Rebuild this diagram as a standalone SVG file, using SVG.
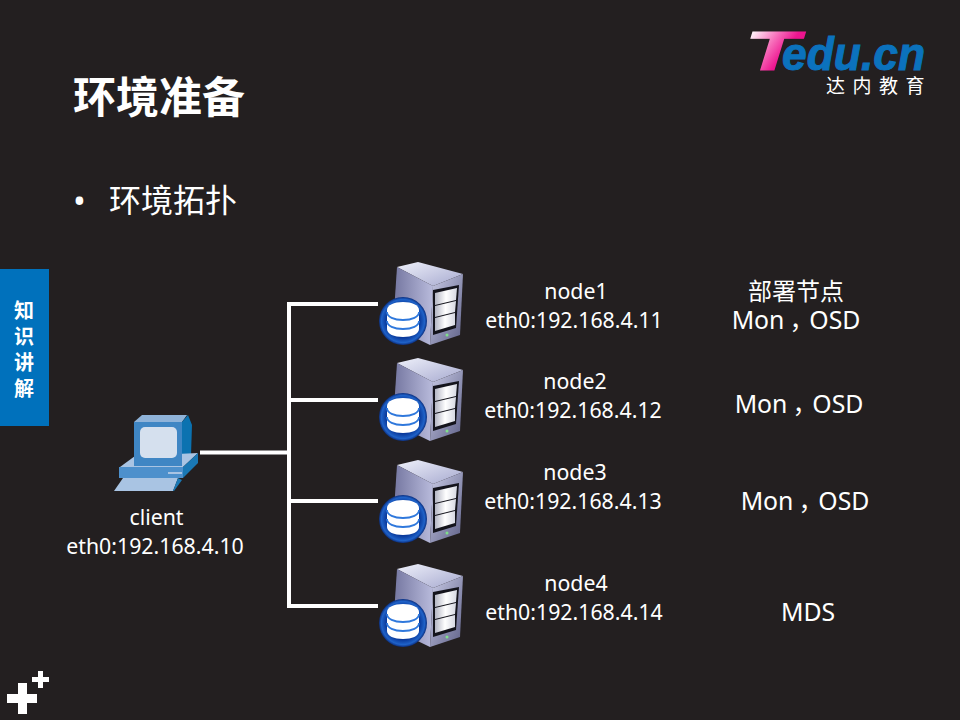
<svg xmlns="http://www.w3.org/2000/svg" width="960" height="720" viewBox="0 0 960 720">
<style>
text{font-family:"Noto Sans","Noto Sans CJK SC",sans-serif;fill:#fff}
.cjk{font-family:"Noto Sans CJK SC",sans-serif}
.lb{font-size:21.3px;text-anchor:middle}
.role{font-size:24.8px;text-anchor:middle}
.conn{stroke:#fff;stroke-width:4;fill:none}
.logo{font-family:"Liberation Sans",sans-serif;font-weight:700;font-style:italic}
</style>
<defs>
<linearGradient id="tg" gradientUnits="userSpaceOnUse" x1="750" y1="32" x2="800" y2="68"><stop offset="0" stop-color="#fff"/><stop offset="0.4" stop-color="#f66ab8"/><stop offset="0.65" stop-color="#ee1590"/><stop offset="1" stop-color="#e8118a"/></linearGradient>
<linearGradient id="side" x1="0" y1="0" x2="1" y2="0"><stop offset="0" stop-color="#73759f"/><stop offset="1" stop-color="#b9bbdc"/></linearGradient>
<linearGradient id="topf" x1="0" y1="0" x2="1" y2="1"><stop offset="0" stop-color="#eef0fa"/><stop offset="1" stop-color="#a6a9cf"/></linearGradient>
<linearGradient id="frontf" x1="0" y1="0" x2="1" y2="1"><stop offset="0" stop-color="#c9cbe6"/><stop offset="1" stop-color="#5f6188"/></linearGradient>
<linearGradient id="slot" x1="0" y1="0" x2="1" y2="0"><stop offset="0" stop-color="#b4b6c4"/><stop offset="0.5" stop-color="#fff"/><stop offset="1" stop-color="#d6d8e2"/></linearGradient>
<radialGradient id="disc" cx="0.5" cy="0.5" r="0.5"><stop offset="0.7" stop-color="#0a3a9c"/><stop offset="0.9" stop-color="#1f62c8"/><stop offset="1" stop-color="#0b2f80"/></radialGradient>
<symbol id="server" overflow="visible">
<polygon points="397,267 418,262 463,274 433,286" fill="url(#topf)"/>
<polygon points="397,267 433,286 430,345 393,327" fill="url(#side)"/>
<polygon points="433,286 463,274 460,335 430,345" fill="url(#frontf)"/>
<polygon points="433,290 459,285 456,328 433,335" fill="#14141c"/>
<polygon points="435,293 457,288 456,300 435,305" fill="url(#slot)"/>
<polygon points="435,306 456,301 455,312 435,317" fill="url(#slot)"/>
<polygon points="435,318 455,313 455,325 435,331" fill="url(#slot)"/>
<circle cx="447" cy="335" r="1.5" fill="#7fe08a"/>
<circle cx="403" cy="321" r="24" fill="url(#disc)"/>
<path d="M387 310c0-5 7-8 16-8s16 3 16 8v19c0 5-7 8-16 8s-16-3-16-8z" fill="#fff"/>
<path d="M387 312c0 5 7 8 16 8s16-3 16-8M387 321c0 5 7 8 16 8s16-3 16-8" fill="none" stroke="#2f78dc" stroke-width="1.8"/>
</symbol>
</defs>
<rect width="960" height="720" fill="#231f20"/>
<text class="cjk" x="73" y="113" font-size="43" font-weight="700">环境准备</text>
<text x="73" y="213" font-size="34">•</text>
<text class="cjk" x="109" y="212" font-size="32">环境拓扑</text>
<g id="logo">
<text class="logo" x="745" y="70" font-size="55" stroke="url(#tg)" stroke-width="1" style="fill:url(#tg)" textLength="54" lengthAdjust="spacingAndGlyphs">T</text>
<text class="logo" x="782" y="70" font-size="46" stroke="#0b72bd" stroke-width="1" style="fill:#0b72bd" textLength="143" lengthAdjust="spacingAndGlyphs">edu.cn</text>
<text class="cjk" x="826" y="93" font-size="19" letter-spacing="7.5">达内教育</text>
</g>
<g id="tab">
<rect x="0" y="269" width="49" height="157" fill="#0071bc"/>
<g font-size="20" font-weight="700" text-anchor="middle">
<text class="cjk" x="24" y="318">知</text><text class="cjk" x="24" y="344">识</text><text class="cjk" x="24" y="370">讲</text><text class="cjk" x="24" y="396">解</text>
</g>
</g>
<g id="connectors" class="conn">
<path d="M289 304H378M289 400H378M289 501H378M289 606H378M289 302V608"/>
<path d="M200 452.500H289"/>
</g>
<g id="client">
<polygon points="134,422 142,415 187,415 182,422" fill="#8fb3d9"/>
<polygon points="182,422 188,415 192,425 191,455 182,465" fill="#0b72b0"/>
<polygon points="120,467 135,456 198,453 183,467" fill="#a9c4e3"/>
<rect x="134" y="422" width="48" height="44" fill="#3f86c4"/>
<rect x="140" y="427" width="37" height="31" rx="5" fill="#d5e0ee"/>
<rect x="119" y="467" width="64" height="11" fill="#4d90cc"/>
<polygon points="183,467 198,453 198,463 183,478" fill="#1a78b4"/>
<rect x="168" y="472" width="14" height="2" fill="#a9c4e3"/>
<polygon points="123,478 178,478 173,491 114,491" fill="#a9c4e3"/>
<polygon points="178,478 182,480 174,491 173,491" fill="#1a78b4"/>
<text class="lb" x="156.500" y="525">client</text>
<text class="lb" x="155" y="554">eth0:192.168.4.10</text>
</g>
<g id="node1"><use href="#server"/><text class="lb" x="576" y="299">node1</text><text class="lb" x="574" y="328">eth0:192.168.4.11</text></g>
<g id="node2"><use href="#server" y="96"/><text class="lb" x="575" y="389">node2</text><text class="lb" x="573" y="418">eth0:192.168.4.12</text></g>
<g id="node3"><use href="#server" y="198"/><text class="lb" x="575" y="480">node3</text><text class="lb" x="573" y="509">eth0:192.168.4.13</text></g>
<g id="node4"><use href="#server" y="302"/><text class="lb" x="576" y="591">node4</text><text class="lb" x="574" y="620">eth0:192.168.4.14</text></g>
<g id="roles">
<text class="cjk" x="796" y="300" text-anchor="middle" font-size="24">部署节点</text>
<text class="role" x="796" y="329">Mon<tspan dx="5">，</tspan><tspan dx="-5">OSD</tspan></text>
<text class="role" x="799" y="413">Mon<tspan dx="5">，</tspan><tspan dx="-5">OSD</tspan></text>
<text class="role" x="805" y="510">Mon<tspan dx="5">，</tspan><tspan dx="-5">OSD</tspan></text>
<text class="role" x="808" y="621">MDS</text>
</g>
<g id="plus" fill="#fff">
<path d="M7 694h30v9H7zM18 683h9v31h-9z"/>
<path d="M32 677h17v5H32zM38 671h5v17h-5z"/>
</g>
</svg>
